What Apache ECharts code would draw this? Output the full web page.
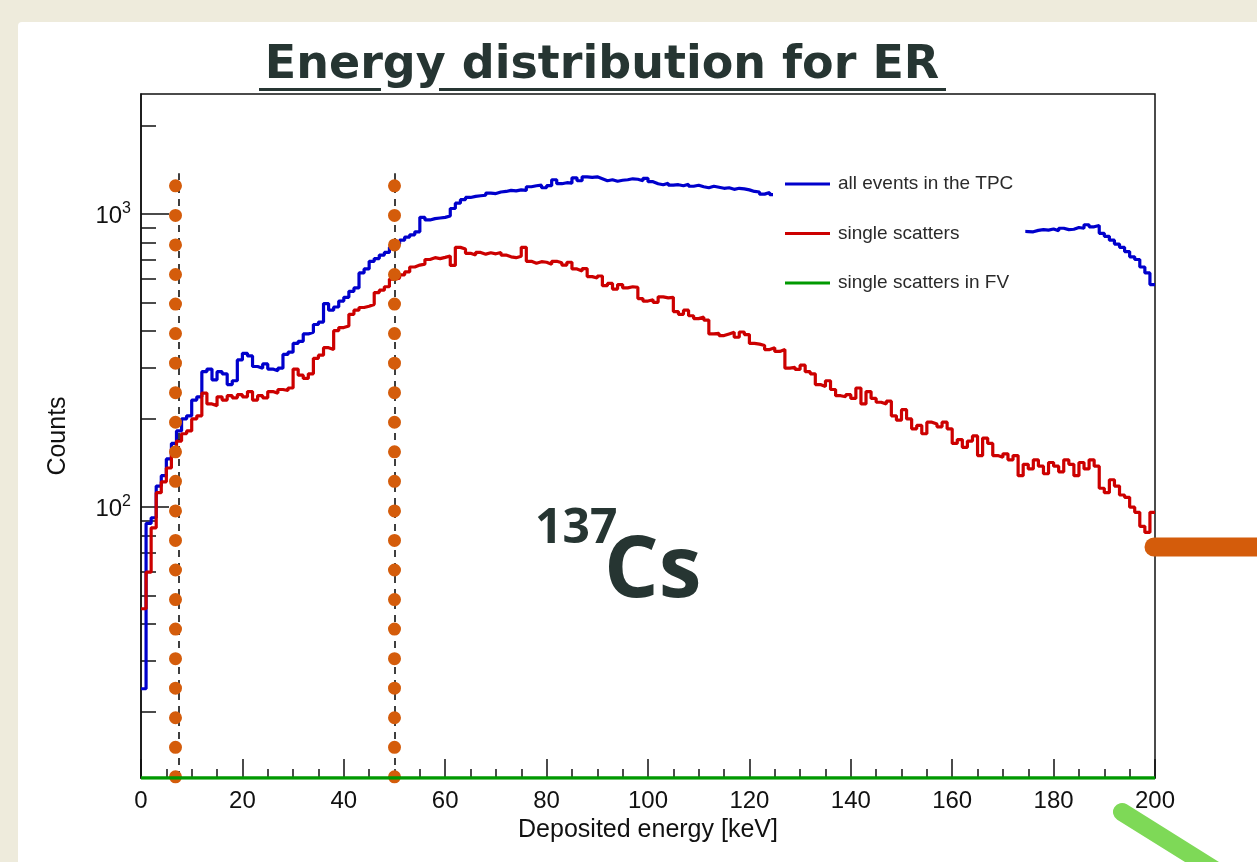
<!DOCTYPE html>
<html><head><meta charset="utf-8">
<script src="https://cdn.jsdelivr.net/npm/echarts@6/dist/echarts.min.js"></script>
<style>
html,body{margin:0;padding:0;width:1257px;height:862px;overflow:hidden;background:#EEEBDC;}
#panel{position:absolute;left:18px;top:22px;width:1260px;height:860px;background:#fff;border-radius:4px;}
#chart{position:absolute;left:0;top:0;width:1257px;height:862px;}
</style></head><body>
<div id="panel"></div><div id="chart"></div>
<script>
// ---- data (1 keV bins, 0..200 keV) ----
const BIN_WIDTH = 1;
const seriesNames = ['all events in the TPC', 'single scatters', 'single scatters in FV'];
const blueCounts = [24,88,92,118,128,146,165,182,200,205,
232,238,290,296,272,290,285,262,270,318,
335,328,302,298,308,296,292,298,332,338,
362,368,390,395,420,428,495,470,482,505,
520,545,560,630,650,690,705,725,740,770,
790,815,835,850,870,975,955,965,970,975,
985,1045,1090,1120,1140,1150,1155,1160,1180,1175,
1190,1195,1205,1200,1210,1205,1240,1250,1255,1230,
1250,1310,1270,1280,1275,1330,1300,1340,1335,1340,
1320,1300,1310,1295,1305,1310,1320,1315,1300,1325,
1290,1270,1260,1275,1255,1260,1250,1265,1245,1255,
1240,1230,1245,1235,1225,1230,1215,1225,1220,1210,
1195,1190,1170,1185,1165,1160,1150,1155,1140,1135,
1125,1120,1110,1100,1095,1085,1080,1070,1060,1055,
1045,1040,1030,1020,1015,1005,1000,990,985,975,
970,960,955,950,940,935,930,925,920,915,
910,905,900,898,895,892,890,888,885,882,
880,878,876,874,872,870,880,885,882,890,
878,895,885,888,900,895,920,905,915,860,
840,815,790,770,745,715,700,660,630,575];
const redCounts = [45,60,85,112,122,136,158,168,178,182,
200,205,245,225,222,238,232,240,236,242,
238,248,232,240,236,248,245,252,250,255,
296,282,275,285,322,330,350,345,400,410,
415,455,470,480,485,492,540,550,565,600,
605,620,635,660,670,675,700,710,705,712,
720,668,770,760,735,725,740,730,738,732,
740,725,715,710,718,770,690,680,688,685,
675,690,682,670,685,650,640,652,612,605,
615,570,580,555,575,560,565,562,515,505,
510,500,522,518,520,465,455,470,450,440,
445,435,390,392,385,390,395,380,396,388,
362,360,356,345,350,340,345,298,300,295,
305,290,285,262,258,270,252,240,238,242,
235,255,225,248,235,228,225,230,205,198,
215,200,185,190,178,195,192,188,195,185,
165,170,160,168,175,150,172,165,150,148,
152,145,150,128,140,135,145,138,130,142,
138,132,145,140,128,142,135,145,138,116,
112,124,118,110,108,100,96,86,82,96];
const fvPoints = [[0, 11.9], [200, 11.9]];       // FV series lies at the bottom of the frame
const xTickLabels = [0,20,40,60,80,100,120,140,160,180,200];
const yMajorTicks = [100, 1000];
const yMinorTicks = [20,30,40,50,60,70,80,90,200,300,400,500,600,700,800,900,2000];
const cutLines = [7.5, 50];          // black dashed lines (keV)
const cutTop = 1380;
const dotLines = [6.75, 50];         // orange dotted overlay (keV)
const dotRange = [12.01, 1249];

const X_MIN = 0, X_MAX = 200, Y_MIN = 11.9, Y_MAX = 2570;

function hist(vals){
  const d = vals.map((v, i) => [i * BIN_WIDTH, v]);
  d.push([vals.length * BIN_WIDTH, vals[vals.length - 1]]);
  return d;
}
const FONT = 'Liberation Sans';
const chart = echarts.init(document.getElementById('chart'), null, {renderer:'canvas'});
chart.setOption({
  animation: false,
  grid: {left:141, right:102, top:94, bottom:84, show:true, borderColor:'#111', borderWidth:1.5, backgroundColor:'#fff'},
  xAxis: [{
    type:'value', min:X_MIN, max:X_MAX, interval:20,
    name:'Deposited energy [keV]', nameLocation:'middle', nameGap:38,
    nameTextStyle:{fontFamily:FONT, fontSize:25, color:'#111'},
    axisLine:{lineStyle:{color:'#111', width:1.5}},
    axisTick:{inside:true, length:19, lineStyle:{color:'#111', width:1.5}},
    minorTick:{show:true, splitNumber:4, length:9, lineStyle:{color:'#111', width:1.5}},
    splitLine:{show:false},
    axisLabel:{fontFamily:FONT, fontSize:24, color:'#111', margin:11,
      customValues: xTickLabels}
  }],
  yAxis: [{
    type:'log', min:Y_MIN, max:Y_MAX,
    name:'Counts', nameLocation:'middle', nameGap:70,
    nameTextStyle:{fontFamily:FONT, fontSize:25, color:'#111'},
    axisLine:{lineStyle:{color:'#111', width:1.5}},
    axisTick:{inside:true, length:28, lineStyle:{color:'#111', width:1.5}, customValues:yMajorTicks},
    splitLine:{show:false}, minorTick:{show:false},
    axisLabel:{margin:10, customValues:yMajorTicks,
      formatter: v => '{b|10}{s|' + Math.round(Math.log10(v)) + '}',
      rich:{ b:{fontFamily:FONT, fontSize:24, color:'#111', padding:[4,0,0,0]},
             s:{fontFamily:FONT, fontSize:16, color:'#111', verticalAlign:'top'} } }
  },{
    type:'log', min:Y_MIN, max:Y_MAX, position:'left',
    axisLine:{show:false},
    axisTick:{inside:true, length:15, lineStyle:{color:'#111', width:1.5}, customValues:yMinorTicks},
    axisLabel:{show:false}, splitLine:{show:false}
  }],
  legend: {
    orient:'vertical', left:773, top:164, padding:[10,12,10,12], backgroundColor:'#fff',
    itemWidth:45, itemHeight:3, itemGap:29.5, icon:'rect', selectedMode:false,
    data: seriesNames,
    textStyle:{fontFamily:FONT, fontSize:19, color:'#2a2a2a', lineHeight:20, padding:[0,0,0,3]}
  },
  series: [
    {name:seriesNames[0], type:'line', step:'end', showSymbol:false, data:hist(blueCounts),
     lineStyle:{color:'#0000CC', width:3.2}, itemStyle:{color:'#0000CC'}, z:3},
    {name:seriesNames[1], type:'line', step:'end', showSymbol:false, data:hist(redCounts),
     lineStyle:{color:'#CC0000', width:3.2}, itemStyle:{color:'#CC0000'}, z:4},
    {name:seriesNames[2], type:'line', showSymbol:false, data:fvPoints,
     lineStyle:{color:'#009900', width:3.5}, itemStyle:{color:'#009900'}, z:5},
    {name:'cuts', type:'line', data:[], z:6,
     markLine:{silent:true, symbol:['none','none'], label:{show:false}, animation:false,
       lineStyle:{color:'#000', type:[7,6], width:1.5},
       data: cutLines.map(x => [{coord:[x, Y_MIN]}, {coord:[x, cutTop]}])}},
    {name:'dots', type:'line', data:[], z:7,
     markLine:{silent:true, symbol:['none','none'], label:{show:false}, animation:false,
       lineStyle:{color:'#D45C0B', type:[0,29.55], cap:'round', width:13},
       data: dotLines.map(x => [{coord:[x, dotRange[0]]}, {coord:[x, dotRange[1]]}])}}
  ],
  graphic: [
    {type:'text', z:100, style:{text:'Energy distribution for ER', x:602, y:66, textAlign:'center', textVerticalAlign:'middle',
      font:'700 46px "DejaVu Sans"', fill:'#263532'}},
    {type:'rect', z:100, shape:{x:259, y:88, width:122, height:3}, style:{fill:'#263532'}},
    {type:'rect', z:100, shape:{x:439, y:88, width:507, height:3}, style:{fill:'#263532'}},
    {type:'text', z:100, style:{text:'137', x:535, y:529, textVerticalAlign:'middle', font:'700 48px "Open Sans"', fill:'#263532'}},
    {type:'text', z:100, style:{text:'Cs', x:604, y:572, textVerticalAlign:'middle', font:'700 86px "Open Sans"', fill:'#263532'}},
    {type:'line', z:100, shape:{x1:1154, y1:547, x2:1300, y2:547}, style:{stroke:'#D45C0B', lineWidth:19, lineCap:'round'}},
    {type:'line', z:100, shape:{x1:1122, y1:812, x2:1250, y2:892}, style:{stroke:'#7ED957', lineWidth:18, lineCap:'round'}}
  ]
});
</script></body></html>
